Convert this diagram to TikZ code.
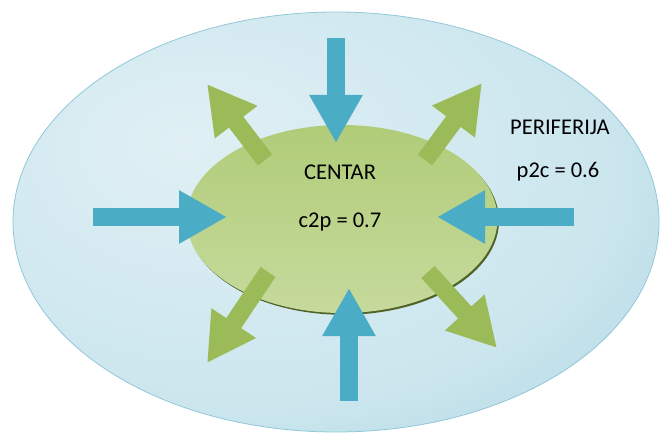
\documentclass[tikz,border=0pt]{standalone}
\usepackage{fontspec}
\setmainfont{Carlito}
\usetikzlibrary{arrows.meta,shapes.geometric}
\definecolor{arrblue}{HTML}{4BACC6}
\definecolor{arrgreen}{HTML}{9BBB59}
\definecolor{skyin}{HTML}{E0F0F5}
\definecolor{skymid}{HTML}{CCE6EE}
\definecolor{skyout}{HTML}{A2D0DE}
\definecolor{skyrim}{HTML}{90C8D8}
\definecolor{gtop}{HTML}{B0CC78}
\definecolor{gmid}{HTML}{9DBD5C}
\definecolor{gbot}{HTML}{C6DA9C}
\definecolor{grim}{HTML}{4F6228}
\pgfdeclareradialshading{skyshade}{\pgfpoint{-12bp}{10bp}}{%
  color(0bp)=(skyin); color(28bp)=(skymid); color(48bp)=(skyout); color(70bp)=(skyout)}
\begin{document}
\begin{tikzpicture}[x=1pt,y=-1pt,
  blockarrow/.style={line width=18pt, -{Triangle[length=48pt,width=50pt]}},
  inarrow/.style={blockarrow, draw=arrblue},
  outarrow/.style={blockarrow, draw=arrgreen},
  lbl/.style={font=\fontsize{22.5}{26}\selectfont, text=black, inner sep=0pt}]
\useasboundingbox (0,0) rectangle (661,441);
\node[ellipse, minimum width=646pt, minimum height=420pt, inner sep=0pt,
  shading=skyshade, draw=skyrim, line width=0.8pt] (periphery) at (336,222) {};
\node[ellipse, minimum width=311pt, minimum height=188pt, inner sep=0pt, fill=grim] (rim) at (343.5,220.8) {};
\node[ellipse, minimum width=311pt, minimum height=188pt, inner sep=0pt,
  top color=gtop, middle color=gmid, bottom color=gbot] (center) at (342,219) {};
% outward green arrows
\coordinate (tlA) at (265,160); \coordinate (tlB) at (207,84);
\coordinate (trA) at (425,160); \coordinate (trB) at (482,83);
\coordinate (blA) at (268,272); \coordinate (blB) at (207,363);
\coordinate (brA) at (428,272); \coordinate (brB) at (497,348);
\draw[outarrow] (tlA) -- (tlB);
\draw[outarrow] (trA) -- (trB);
\draw[outarrow] (blA) -- (blB);
\draw[outarrow] (brA) -- (brB);
% inward blue arrows
\coordinate (lA) at (93,217); \coordinate (lB) at (227,217);
\coordinate (rA) at (574,217); \coordinate (rB) at (437,217);
\coordinate (tA) at (336,38); \coordinate (tB) at (336,143);
\coordinate (bA) at (349,401); \coordinate (bB) at (349,288);
\draw[inarrow] (lA) -- (lB);
\draw[inarrow] (rA) -- (rB);
\draw[inarrow] (tA) -- (tB);
\draw[inarrow] (bA) -- (bB);
% labels
\node[lbl] (centar) at (340,172) {CENTAR};
\node[lbl] (c2p) at (340,222) {c2p = 0.7};
\node[lbl] (perif) at (560,127) {PERIFERIJA};
\node[lbl] (p2c) at (558,172) {p2c = 0.6};
\end{tikzpicture}
\end{document}
